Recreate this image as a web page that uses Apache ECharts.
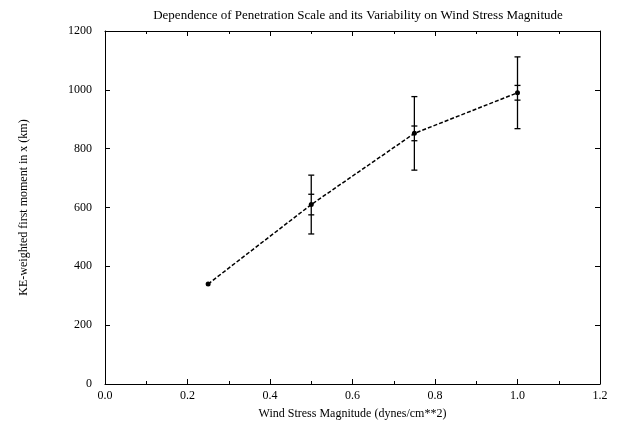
<!DOCTYPE html>
<html><head><meta charset="utf-8">
<script src="https://cdn.jsdelivr.net/npm/echarts@6/dist/echarts.min.js"></script>
<style>html,body{margin:0;padding:0;background:#fff}#c{width:623px;height:425px}</style>
</head><body><div id="c"></div>
<script>
const titleText = 'Dependence of Penetration Scale and its Variability on Wind Stress Magnitude';
const xName = 'Wind Stress Magnitude (dynes/cm**2)';
const yName = 'KE-weighted first moment in x (km)';
const windStress = [0.25, 0.5, 0.75, 1.0];
const penetration = [340, 610, 852, 990];
const outerErr = [0, 100, 125, 122];
const innerErr = [0, 35, 25, 25];

const font = '"Liberation Serif", "DejaVu Serif", serif';
const chart = echarts.init(document.getElementById('c'));
const lineData = windStress.map((x, i) => [x, penetration[i]]);
const errData = windStress.map((x, i) => [x, penetration[i], outerErr[i], innerErr[i]]).filter(d => d[2] > 0);

function axisBase(pos, showLabel) {
  return {
    position: pos,
    axisLine: {show: true, onZero: false, lineStyle: {color: '#000', width: 1}},
    axisTick: {show: true, inside: true, length: 5, lineStyle: {color: '#000'}},
    splitLine: {show: false},
    axisLabel: {show: showLabel, color: '#000', fontFamily: font, fontSize: 12},
  };
}

chart.setOption({
  animation: false,
  backgroundColor: '#fff',
  title: {
    text: titleText, left: 353, top: 4, textAlign: 'center',
    textStyle: {fontFamily: font, fontSize: 13, fontWeight: 'normal', color: '#000'}
  },
  grid: {left: 105, right: 23, top: 31, bottom: 39},
  xAxis: [
    Object.assign(axisBase('bottom', true), {
      type: 'value', min: 0, max: 1.2, interval: 0.2,
      name: xName, nameLocation: 'middle', nameGap: 24,
      nameTextStyle: {fontFamily: font, fontSize: 12, color: '#000'},
      axisLabel: {color: '#000', fontFamily: font, fontSize: 12, margin: 6, formatter: v => v.toFixed(1)},
      minorTick: {show: true, splitNumber: 2, length: 3, lineStyle: {color: '#000'}}
    }),
    Object.assign(axisBase('top', false), {
      type: 'value', min: 0, max: 1.2, interval: 0.2,
      minorTick: {show: true, splitNumber: 2, length: 3, lineStyle: {color: '#000'}}
    })
  ],
  yAxis: [
    Object.assign(axisBase('left', true), {
      type: 'value', min: 0, max: 1200, interval: 200,
      name: yName, nameLocation: 'middle', nameGap: 75,
      nameTextStyle: {fontFamily: font, fontSize: 12, color: '#000'},
      axisLabel: {color: '#000', fontFamily: font, fontSize: 12, margin: 13, formatter: v => String(v)}
    }),
    Object.assign(axisBase('right', false), {
      type: 'value', min: 0, max: 1200, interval: 200
    })
  ],
  series: [
    {
      type: 'custom', xAxisIndex: 0, yAxisIndex: 0, data: errData,
      encode: {x: 0, y: [1]},
      renderItem: function (params, api) {
        const x = api.value(0), y = api.value(1), o = api.value(2), n = api.value(3);
        const top = api.coord([x, y + o]), bot = api.coord([x, y - o]);
        const it = api.coord([x, y + n]), ib = api.coord([x, y - n]);
        const cap = 3, icap = 3;
        const st = {stroke: '#000', lineWidth: 1.3};
        return {type: 'group', children: [
          {type: 'line', shape: {x1: top[0], y1: top[1], x2: bot[0], y2: bot[1]}, style: st},
          {type: 'line', shape: {x1: top[0] - cap, y1: top[1], x2: top[0] + cap, y2: top[1]}, style: st},
          {type: 'line', shape: {x1: bot[0] - cap, y1: bot[1], x2: bot[0] + cap, y2: bot[1]}, style: st},
          {type: 'line', shape: {x1: it[0] - icap, y1: it[1], x2: it[0] + icap, y2: it[1]}, style: st},
          {type: 'line', shape: {x1: ib[0] - icap, y1: ib[1], x2: ib[0] + icap, y2: ib[1]}, style: st}
        ]};
      },
      z: 3
    },
    {
      type: 'line', xAxisIndex: 0, yAxisIndex: 0, data: lineData,
      symbol: 'circle', symbolSize: 5,
      itemStyle: {color: '#000'},
      lineStyle: {color: '#000', width: 1.5, type: [4, 2]},
      z: 4
    }
  ]
});
</script></body></html>
